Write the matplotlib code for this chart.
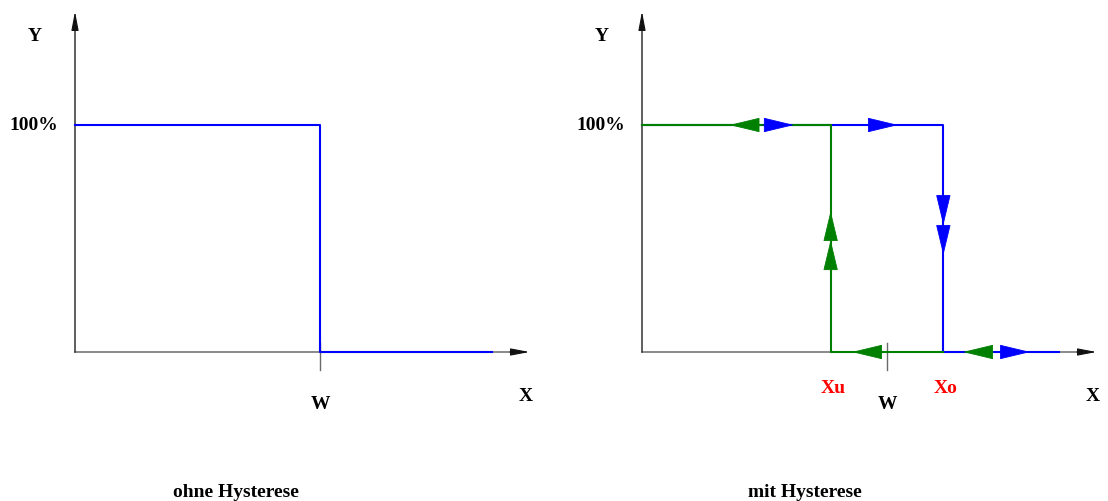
import matplotlib
matplotlib.use('Agg')
import matplotlib.pyplot as plt

plt.rcParams['font.family'] = ['Liberation Serif', 'DejaVu Serif']

# switching points (x in arbitrary units, y in %)
W = 10.0
XU = 7.7
XO = 12.3
X_END = 17.0
Y_MAX = 100
X_AXIS_END = 18.55
Y_AXIS_END = 150

# ohne Hysterese
plain_x = [0, W, W, X_END]
plain_y = [Y_MAX, Y_MAX, 0, 0]

# mit Hysterese
blue_x = [0, XO, XO, X_END]
blue_y = [Y_MAX, Y_MAX, 0, 0]
green_x = [0, XU, XU, XO]
green_y = [Y_MAX, Y_MAX, 0, 0]

# direction arrows: (base, tip)
blue_arrows = [((4.94, 100), (6.2, 100)),
               ((9.22, 100), (10.45, 100)),
               ((XO, 67.4), (XO, 55.9)),
               ((XO, 55.1), (XO, 42.7)),
               ((14.57, 0), (15.84, 0))]
green_arrows = [((4.73, 100), (3.57, 100)),
                ((XU, 49.3), (XU, 62.1)),
                ((XU, 36.6), (XU, 49.3)),
                ((9.71, 0), (8.57, 0)),
                ((14.33, 0), (13.1, 0))]

BLUE = '#0000ff'
GREEN = '#008000'
RED = '#ff0000'
AX_COL = '#6a6a6a'

PX_X = 24.5   # pixels per x unit
PX_Y = 2.27   # pixels per y unit
FIG_W, FIG_H = 1108, 501
ORIGIN_Y = 352

fig = plt.figure(figsize=(FIG_W / 100, FIG_H / 100), dpi=100)


def make_axes(left_px, right_px, origin_x):
    ax = fig.add_axes([left_px / FIG_W, 0, (right_px - left_px) / FIG_W, 1])
    ax.set_xlim((left_px - origin_x) / PX_X, (right_px - origin_x) / PX_X)
    ax.set_ylim((ORIGIN_Y - FIG_H) / PX_Y, ORIGIN_Y / PX_Y)
    ax.axis('off')
    return ax


def draw_frame(ax):
    ax.plot([0, X_AXIS_END - 0.4], [0, 0], color=AX_COL, lw=1.1)
    ax.plot([0, 0], [0, Y_AXIS_END - 4], color='#333333', lw=1.1)
    style = '-|>,head_length=1.15,head_width=0.22'
    ax.annotate('', xy=(X_AXIS_END, 0), xytext=(X_AXIS_END - 0.8, 0),
                arrowprops=dict(arrowstyle=style, color='#111111', lw=0.8,
                                shrinkA=0, shrinkB=0))
    ax.annotate('', xy=(0, Y_AXIS_END), xytext=(0, Y_AXIS_END - 8),
                arrowprops=dict(arrowstyle=style, color='#111111', lw=0.8,
                                shrinkA=0, shrinkB=0))
    ax.plot([W, W], [4, -8], color=AX_COL, lw=1.0)
    ax.text(-1.63, 138.8, 'Y', ha='center', va='center', fontsize=14, fontweight='bold')
    ax.text(-1.7, 100, '100%', ha='center', va='center', fontsize=14, fontweight='bold')
    ax.text(18.4, -19.8, 'X', ha='center', va='center', fontsize=14, fontweight='bold')
    ax.text(W, -23.3, 'W', ha='center', va='center', fontsize=14, fontweight='bold')


def direction_arrow(ax, base, tip, color):
    ax.annotate('', xy=tip, xytext=base,
                arrowprops=dict(arrowstyle='-|>,head_length=2.0,head_width=0.48',
                                color=color, lw=0.6, shrinkA=0, shrinkB=0))


# left panel
ax1 = make_axes(0, 554, 75)
draw_frame(ax1)
ax1.plot(plain_x, plain_y, color=BLUE, lw=1.5)
ax1.text(6.57, -61.7, 'ohne Hysterese', ha='center', va='center',
         fontsize=14, fontweight='bold')

# right panel
ax2 = make_axes(554, 1108, 642)
draw_frame(ax2)
ax2.plot(blue_x, blue_y, color=BLUE, lw=1.5)
ax2.plot(green_x, green_y, color=GREEN, lw=1.5)
for base, tip in blue_arrows:
    direction_arrow(ax2, base, tip, BLUE)
for base, tip in green_arrows:
    direction_arrow(ax2, base, tip, GREEN)
ax2.text(XU + 0.1, -15.9, 'Xu', ha='center', va='center', color=RED,
         fontsize=14, fontweight='bold')
ax2.text(XO + 0.1, -15.9, 'Xo', ha='center', va='center', color=RED,
         fontsize=14, fontweight='bold')
ax2.text(6.65, -61.7, 'mit Hysterese', ha='center', va='center',
         fontsize=14, fontweight='bold')

fig.savefig('out.png', dpi=100)
